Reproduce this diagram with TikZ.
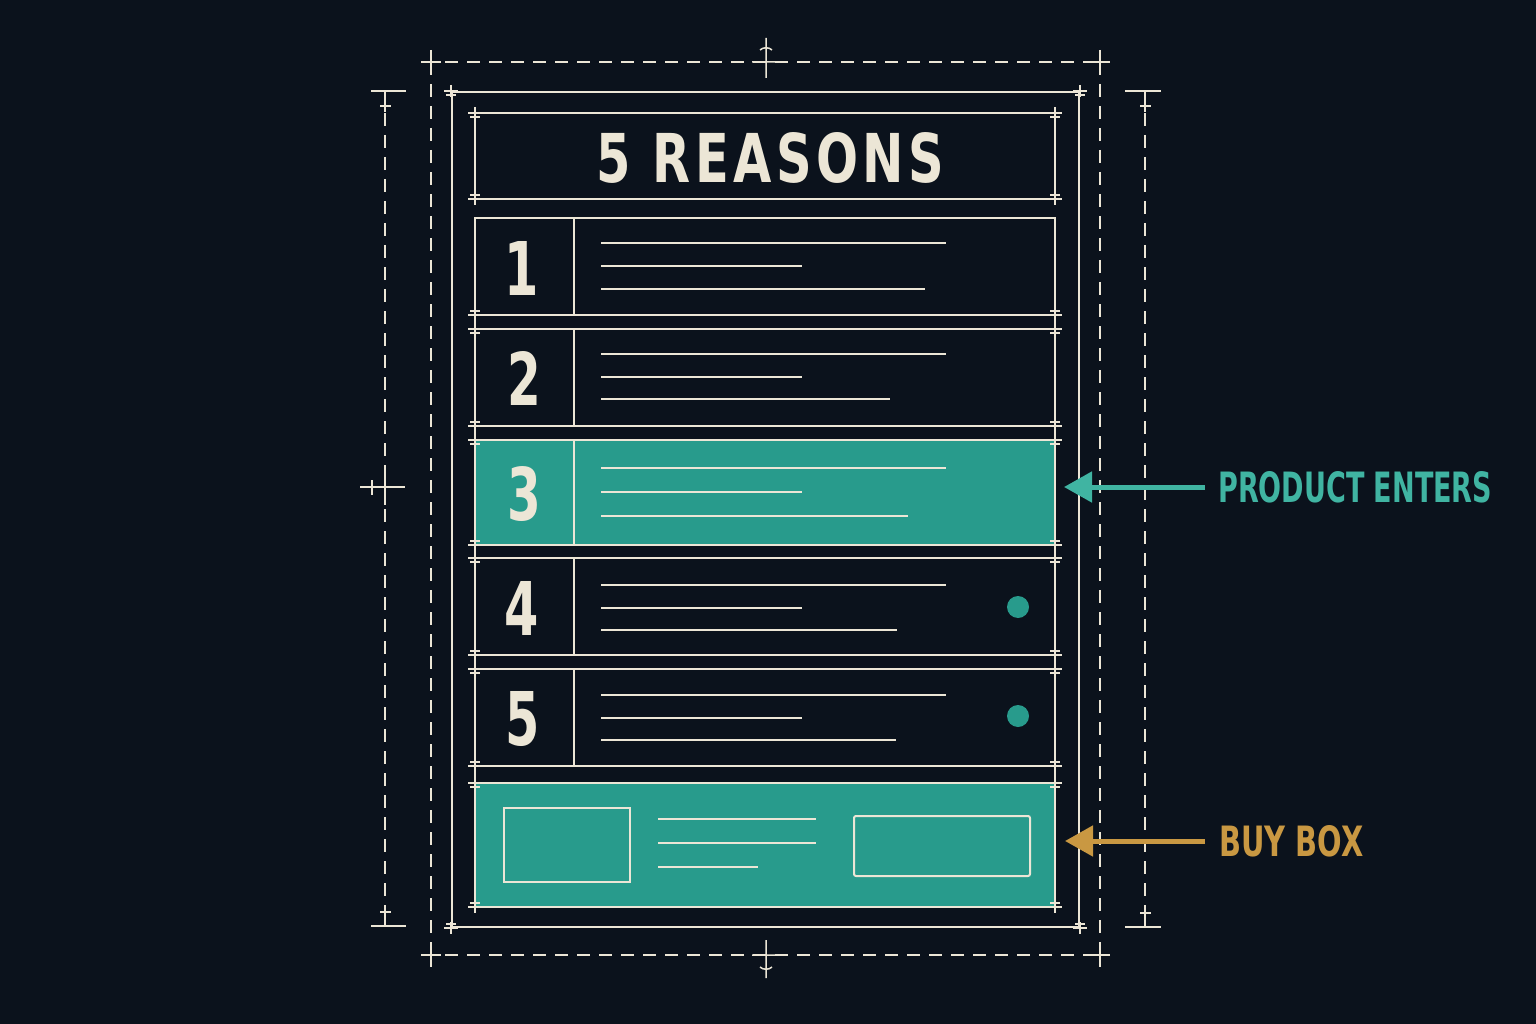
\documentclass[tikz,border=0pt]{standalone}
\usepackage{fontspec}
\usepackage{graphicx}
\newfontfamily\condfont{DejaVu Sans Condensed}
\newfontfamily\titlefont{DejaVu Sans Condensed}[LetterSpace=8]
\usetikzlibrary{arrows.meta}
\definecolor{bgc}{RGB}{11,18,28}
\definecolor{cream}{RGB}{236,230,214}
\definecolor{tealf}{RGB}{40,155,140}
\definecolor{tealt}{RGB}{64,180,162}
\definecolor{gold}{RGB}{201,152,66}
\newcommand\bignum[1]{\resizebox{!}{54pt}{\scalebox{0.74}[1]{\condfont\bfseries #1}}}
\begin{document}
\begin{tikzpicture}[x=1pt,y=-1pt,
  lw/.style={draw=cream,line width=2pt},
  rowbox/.style={lw,minimum width=580pt,inner sep=0pt,outer sep=0pt},
  txtline/.style={cream,line width=2.2pt},
  guide/.style={cream,line width=1.5pt,dash pattern=on 13pt off 9pt},
  thin/.style={cream,line width=1.5pt},
  numtxt/.style={text=cream,inner sep=0pt},
  cmk/.pic={\draw[cream,line width=1.3pt] (-7,0)--(7,0) (0,-6)--(0,6) (-5,4)--(5,4);},
  cmkb/.pic={\draw[cream,line width=1.3pt] (-7,0)--(7,0) (0,-6)--(0,6) (-5,-4)--(5,-4);}
]
\fill[bgc] (0,0) rectangle (1536,1024);
\useasboundingbox (0,0) rectangle (1536,1024);

% ---- dashed guides ----
\draw[guide] (423,62) -- (1108,62);
\draw[guide] (423,955) -- (1108,955);
\draw[guide] (431,62) -- (431,955);
\draw[guide] (1100,62) -- (1100,955);
\foreach \x/\y in {431/62,1100/62,431/955,1100/955}{
  \draw[thin] (\x-10,\y) -- (\x+10,\y) (\x,\y-12) -- (\x,\y+12);
}
\draw[thin] (766,38) -- (766,78) (752,62) -- (782,62) (760,50) .. controls (763,47) and (769,47) .. (772,50);
\draw[thin] (766,940) -- (766,978) (752,955) -- (782,955) (760,967) .. controls (763,970) and (769,970) .. (772,967);

% ---- dimension lines ----
\draw[guide] (385,91) -- (385,926);
\draw[guide] (1145,91) -- (1145,926);
\draw[thin] (371,91) -- (406,91) (385,91) -- (385,112) (380,106) -- (391,106);
\draw[thin] (371,926) -- (406,926) (385,926) -- (385,906) (380,912) -- (391,912);
\draw[thin] (1125,91) -- (1161,91) (1145,91) -- (1145,112) (1140,106) -- (1151,106);
\draw[thin] (1125,927) -- (1161,927) (1145,927) -- (1145,906) (1140,913) -- (1151,913);
\draw[thin] (360,487) -- (405,487) (385,470) -- (385,505) (372,480) -- (372,495);

% ---- outer frame ----
\node[lw,minimum width=627pt,minimum height=835pt,inner sep=0pt,line width=2pt] (frame) at (765.5,509.5) {};
\foreach \p in {frame.north west,frame.north east}{\pic at (\p) {cmk};}
\foreach \p in {frame.south west,frame.south east}{\pic at (\p) {cmkb};}

% ---- title ----
\node[rowbox,minimum height=86pt] (title) at (765,156) {};
\foreach \p in {title.north west,title.north east}{\pic at (\p) {cmk};}
\foreach \p in {title.south west,title.south east}{\pic at (\p) {cmkb};}
\node[numtxt] (ttext) at (770.5,157.5) {\resizebox{347pt}{50pt}{\titlefont\bfseries 5 REASONS}};

% ---- rows ----
\node[rowbox,minimum height=97pt] (r1) at (765,266.5) {};
\node[rowbox,minimum height=97pt] (r2) at (765,377.5) {};
\node[rowbox,minimum height=105pt,fill=tealf] (r3) at (765,492.5) {};
\node[rowbox,minimum height=97pt] (r4) at (765,606.5) {};
\node[rowbox,minimum height=97pt] (r5) at (765,717.5) {};
\node[rowbox,minimum height=124pt,fill=tealf] (buy) at (765,845) {};
\draw[lw] (475,218) -- (475,907);
\draw[lw] (1055,218) -- (1055,907);
\foreach \r in {r2,r3,r4,r5,buy}{\pic at (\r.north west) {cmk}; \pic at (\r.north east) {cmk};}
\foreach \r in {r1,r2,r3,r4,r5,buy}{\pic at (\r.south west) {cmkb}; \pic at (\r.south east) {cmkb};}

\foreach \r in {r1,r2,r3,r4,r5}{\draw[lw] (\r.north west -| 574,0) -- (\r.south west -| 574,0);}

\node[numtxt] (n1) at (522,268) {\bignum{1}};
\node[numtxt] (n2) at (524,378.5) {\bignum{2}};
\node[numtxt] (n3) at (524,494) {\bignum{3}};
\node[numtxt] (n4) at (522,608) {\bignum{4}};
\node[numtxt] (n5) at (523,719) {\bignum{5}};

% text lines
\draw[txtline] (601,243) -- (946,243) (601,266) -- (802,266) (601,289) -- (925,289);
\draw[txtline] (601,354) -- (946,354) (601,377) -- (802,377) (601,399) -- (890,399);
\draw[txtline] (601,468) -- (946,468) (601,492) -- (802,492) (601,516) -- (908,516);
\draw[txtline] (601,585) -- (946,585) (601,608) -- (802,608) (601,630) -- (897,630);
\draw[txtline] (601,695) -- (946,695) (601,718) -- (802,718) (601,740) -- (896,740);

\fill[tealf] (1018,607) circle[radius=11pt];
\fill[tealf] (1018,716) circle[radius=11pt];

% buy box content
\node[lw,minimum width=126pt,minimum height=74pt,inner sep=0pt] (bimg) at (566.5,845) {};
\node[lw,minimum width=176pt,minimum height=60pt,inner sep=0pt,rounded corners=2pt] (bbtn) at (942,846) {};
\draw[txtline] (658,819) -- (816,819) (658,843) -- (816,843) (658,867) -- (758,867);

% ---- callouts ----
\node[anchor=west,inner sep=0pt,text=tealt] (pe) at (1218,487) {\resizebox{274pt}{31pt}{\condfont\bfseries PRODUCT ENTERS}};
\node[anchor=west,inner sep=0pt,text=gold] (bb) at (1219,841) {\resizebox{144pt}{31pt}{\condfont\bfseries BUY BOX}};
\draw[tealt,line width=5pt,-{Triangle[length=28pt,width=30pt]}] ([xshift=-13pt]pe.west) -- ([xshift=9pt]r3.east |- pe.west);
\draw[gold,line width=5pt,-{Triangle[length=28pt,width=30pt]}] ([xshift=-14pt]bb.west) -- ([xshift=10pt]buy.east |- bb.west);
\end{tikzpicture}
\end{document}
